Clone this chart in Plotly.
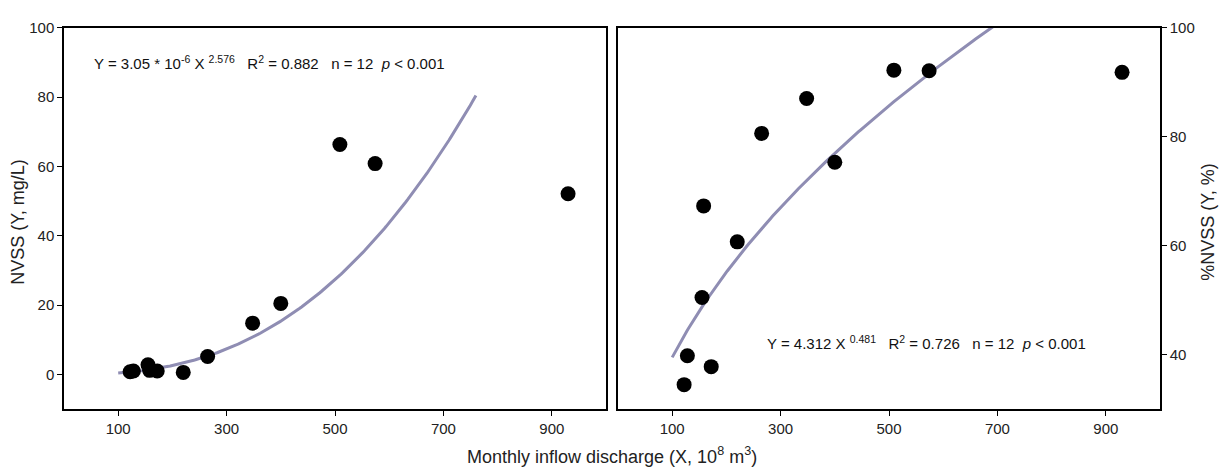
import numpy as np
import plotly.graph_objects as go

# Monthly inflow discharge (X, 10^8 m^3)
discharge = [122, 128, 155, 158, 172, 220, 265, 348, 400, 509, 574, 930]
# NVSS (mg/L)
nvss = [0.8, 1.0, 2.8, 1.2, 1.0, 0.6, 5.2, 14.8, 20.5, 66.3, 60.8, 52.1]
# %NVSS
pct_nvss = [34.5, 39.8, 50.5, 67.3, 37.8, 60.7, 80.6, 87.0, 75.3, 92.2, 92.1, 91.8]

# fitted power-law models shown on the chart
fit_left = dict(a=3.05e-6, b=2.576, xmin=100, xmax=760)
fit_right = dict(a=4.312, b=0.481, xmin=100, xmax=695)

x_ticks = [100, 300, 500, 700, 900]
left_y_ticks = [0, 20, 40, 60, 80, 100]
right_y_ticks = [40, 60, 80, 100]

FONT = "Liberation Sans, Arial, sans-serif"
CURVE = "#8f8db3"

xl = np.linspace(fit_left["xmin"], fit_left["xmax"], 200)
yl = fit_left["a"] * xl ** fit_left["b"]
xr = np.linspace(fit_right["xmin"], fit_right["xmax"], 200)
yr = fit_right["a"] * xr ** fit_right["b"]

fig = go.Figure()
fig.add_trace(go.Scatter(x=xl, y=yl, mode="lines", line=dict(color=CURVE, width=3),
                         xaxis="x", yaxis="y", showlegend=False, hoverinfo="skip"))
fig.add_trace(go.Scatter(x=discharge, y=nvss, mode="markers",
                         marker=dict(color="black", size=15), xaxis="x", yaxis="y", showlegend=False))
fig.add_trace(go.Scatter(x=xr, y=yr, mode="lines", line=dict(color=CURVE, width=3),
                         xaxis="x2", yaxis="y2", showlegend=False, hoverinfo="skip"))
fig.add_trace(go.Scatter(x=discharge, y=pct_nvss, mode="markers",
                         marker=dict(color="black", size=15), xaxis="x2", yaxis="y2", showlegend=False))

axis_common = dict(showgrid=False, zeroline=False, showline=True, linecolor="black", linewidth=1.5,
                   mirror=True, ticks="outside", ticklen=5, tickwidth=1.2, tickcolor="black",
                   tickfont=dict(family=FONT, size=15, color="#222"))

fig.update_layout(
    width=1225, height=470,
    margin=dict(l=0, r=0, t=0, b=0),
    paper_bgcolor="white", plot_bgcolor="white",
    font=dict(family=FONT, color="#222"),
    xaxis=dict(domain=[64 / 1225, 606 / 1225], range=[0, 1000], tickvals=x_ticks,
               anchor="y", **axis_common),
    yaxis=dict(domain=[1 - 408 / 470, 1 - 19 / 470], range=[-10, 100], tickvals=left_y_ticks,
               anchor="x", **axis_common),
    xaxis2=dict(domain=[618 / 1225, 1160 / 1225], range=[0, 1000], tickvals=x_ticks,
                anchor="y2", **axis_common),
    yaxis2=dict(domain=[1 - 408 / 470, 1 - 19 / 470], range=[30, 100], tickvals=right_y_ticks,
                anchor="x2", side="right", **axis_common),
)

fig.add_annotation(xref="paper", yref="paper", x=92 / 1225, y=1 - 55 / 470, xanchor="left", yanchor="middle",
                   text="Y = 3.05 * 10<sup>-6</sup> X <sup>2.576</sup>   R<sup>2</sup> = 0.882   n = 12  <i>p</i> < 0.001",
                   showarrow=False, font=dict(family=FONT, size=15, color="#111"))
fig.add_annotation(xref="paper", yref="paper", x=765 / 1225, y=1 - 340 / 470, xanchor="left", yanchor="middle",
                   text="Y = 4.312 X <sup>0.481</sup>   R<sup>2</sup> = 0.726   n = 12  <i>p</i> < 0.001",
                   showarrow=False, font=dict(family=FONT, size=15, color="#111"))
fig.add_annotation(xref="paper", yref="paper", x=612 / 1225, y=1 - 455 / 470, xanchor="center", yanchor="middle",
                   text="Monthly inflow discharge (X, 10<sup>8</sup> m<sup>3</sup>)",
                   showarrow=False, font=dict(family=FONT, size=18, color="#222"))
fig.add_annotation(xref="paper", yref="paper", x=18 / 1225, y=1 - 217 / 470, xanchor="center", yanchor="middle",
                   text="NVSS (Y, mg/L)", textangle=-90,
                   showarrow=False, font=dict(family=FONT, size=18, color="#222"))
fig.add_annotation(xref="paper", yref="paper", x=1208 / 1225, y=1 - 217 / 470, xanchor="center", yanchor="middle",
                   text="%NVSS (Y, %)", textangle=-90,
                   showarrow=False, font=dict(family=FONT, size=18, color="#222"))

fig.write_html("out.html")
